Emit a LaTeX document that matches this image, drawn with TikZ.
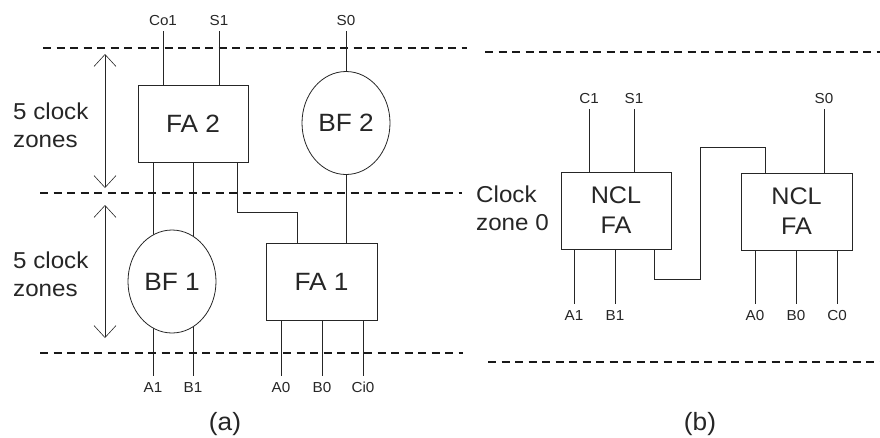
\documentclass[tikz,border=0pt]{standalone}
\usepackage{fontspec}
\setmainfont{Liberation Sans}[FakeStretch=1.05]
\usetikzlibrary{arrows.meta,shapes.geometric,backgrounds}

\begin{document}
\begin{tikzpicture}[x=1pt,y=-1pt,text=black!85,
			blk/.style={draw=black!85,line width=0.8pt,rectangle,inner sep=0pt,minimum width=110pt,minimum height=77pt,align=center,font=\fontsize{25}{30}\selectfont},
			buf/.style={draw=black!85,line width=0.8pt,ellipse,fill=white,inner sep=0pt,minimum width=88pt,minimum height=103pt,font=\fontsize{25}{30}\selectfont},
			wire/.style={draw=black!85,line width=0.8pt},
			pinlab/.style={anchor=base,inner sep=0pt,outer sep=6pt,font=\fontsize{14.5}{16}\selectfont},
			zoneline/.style={draw=black!90,dash pattern=on 8pt off 5.5pt,line width=1.4pt},
			zonearrow/.style={draw=black!85,>={Straight Barb[length=12pt,width=22pt]},<->,line width=0.6pt},
			sidetext/.style={anchor=base west,align=left,inner sep=0pt,font=\fontsize{23}{28}\selectfont},
			captext/.style={anchor=base,inner sep=0pt,font=\fontsize{25}{28}\selectfont}]
			\useasboundingbox (0,0) rectangle (880,437);
			\begin{scope}
				\draw[zoneline] (43,48) -- (467,48);
				\draw[zoneline] (40,193) -- (462,193);
				\draw[zoneline] (40,353) -- (463,353);
				\draw[zonearrow] (105,54) -- (105,188);
				\draw[zonearrow] (105,205) -- (105,338);
				\node[sidetext] (zonestop) at (13,147) {5 clock\\zones};
				\node[sidetext] (zonesbot) at (13,296.5) {5 clock\\zones};
				\node[blk] (fa2) at (193,123.5) {FA 2};
				\node[buf] (bf2) at (346,123) {BF 2};
				\node[buf] (bf1) at (172,281.5) {BF 1};
				\node[blk,minimum width=111pt] (fa1) at (321.5,281.5) {FA 1};
				\node[pinlab] (co1) at (163,25) {Co1};
				\node[pinlab] (s1a) at (219,25) {S1};
				\node[pinlab] (s0a) at (346,25) {S0};
				\node[pinlab] (a1a) at (153,392) {A1};
				\node[pinlab] (b1a) at (193,392) {B1};
				\node[pinlab] (a0a) at (281,392) {A0};
				\node[pinlab] (b0a) at (322,392) {B0};
				\node[pinlab] (ci0a) at (363,392) {Ci0};
				\draw[wire] (co1) -- (co1 |- fa2.north);
				\draw[wire] (s1a) -- (s1a |- fa2.north);
				\draw[wire] (s0a) -- (bf2);
				\draw[wire] (bf2) -- (bf2 |- fa1.north);
				\begin{scope}[on background layer]
					\draw[wire] (a1a |- fa2.south) -- (a1a);
					\draw[wire] (b1a |- fa2.south) -- (b1a);
				\end{scope}
				\draw[wire] ([xshift=44pt]fa2.south) -- ++(0,50) -| ([xshift=-24.5pt]fa1.north);
				\draw[wire] (fa1.south -| a0a) -- (a0a);
				\draw[wire] (fa1.south -| b0a) -- (b0a);
				\draw[wire] (fa1.south -| ci0a) -- (ci0a);
				\node[captext] (capa) at (225,430) {(a)};
			\end{scope}
			\begin{scope}
				\draw[zoneline] (485,52) -- (880,52);
				\draw[zoneline] (488,362) -- (880,362);
				\node[sidetext] (zone0) at (476,230) {Clock\\zone 0};
				\node[blk,font=\fontsize{24}{30}\selectfont] (ncl1) at (616,210.5) {NCL\\FA};
				\node[blk,minimum width=111pt,font=\fontsize{24}{30}\selectfont] (ncl0) at (796.5,211.5) {NCL\\FA};
				\node[pinlab] (c1b) at (589,103) {C1};
				\node[pinlab] (s1b) at (634,103) {S1};
				\node[pinlab] (s0b) at (824,103) {S0};
				\node[pinlab] (a1b) at (574,320) {A1};
				\node[pinlab] (b1b) at (615,320) {B1};
				\node[pinlab] (a0b) at (755,320) {A0};
				\node[pinlab] (b0b) at (796,320) {B0};
				\node[pinlab] (c0b) at (837,320) {C0};
				\draw[wire] (c1b) -- (c1b |- ncl1.north);
				\draw[wire] (s1b) -- (s1b |- ncl1.north);
				\draw[wire] (s0b) -- (s0b |- ncl0.north);
				\draw[wire] (ncl1.south -| a1b) -- (a1b);
				\draw[wire] (ncl1.south -| b1b) -- (b1b);
				\draw[wire] (ncl0.south -| a0b) -- (a0b);
				\draw[wire] (ncl0.south -| b0b) -- (b0b);
				\draw[wire] (ncl0.south -| c0b) -- (c0b);
				\draw[wire] ([xshift=38pt]ncl1.south) -- ++(0,30) -- ++(46,0) |- ([xshift=-31.5pt,yshift=25pt]ncl0.north) -- ([xshift=-31.5pt]ncl0.north);
				\node[captext] (capb) at (700,430) {(b)};
			\end{scope}
		\end{tikzpicture}
\end{document}
